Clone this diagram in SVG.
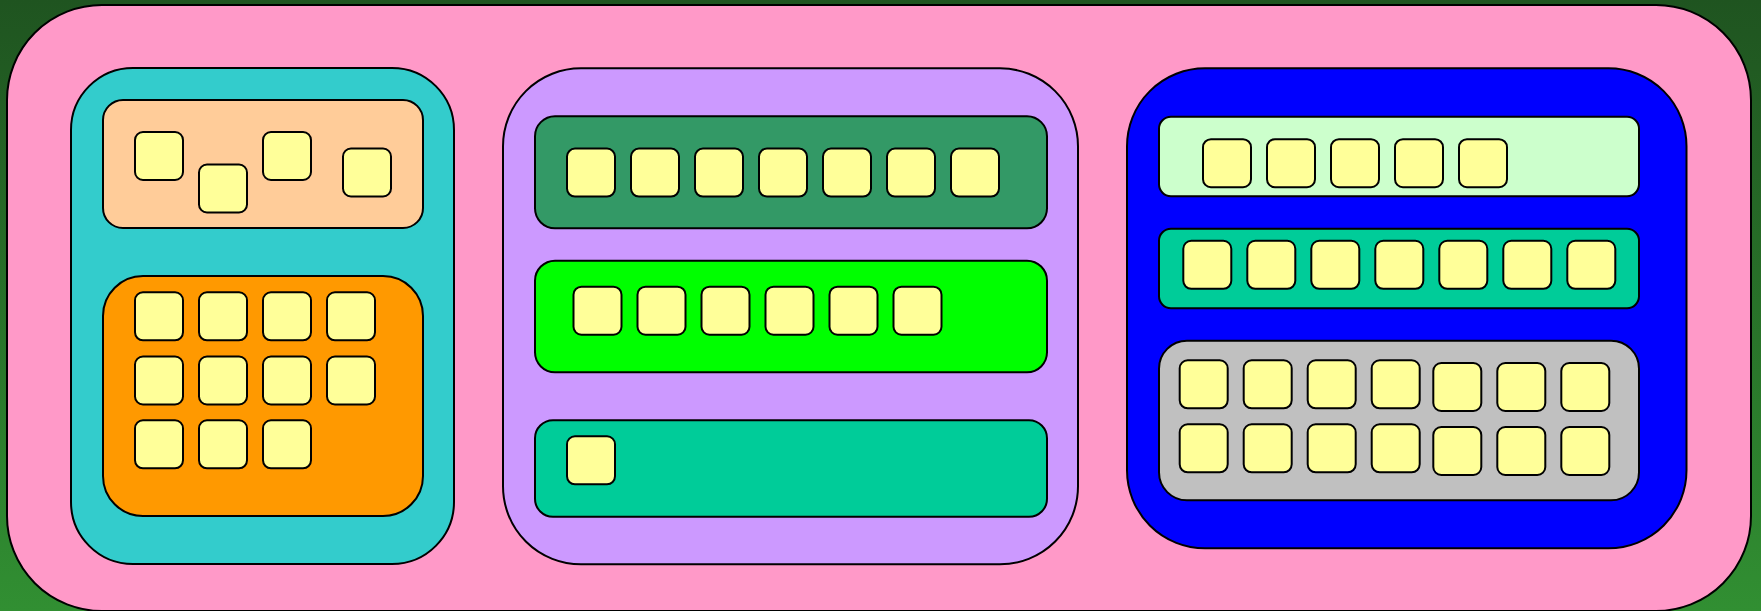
<svg xmlns="http://www.w3.org/2000/svg" width="1761" height="611" viewBox="0 0 1761 611">
  <defs>
    <linearGradient id="bg" x1="0" y1="0" x2="0" y2="1">
      <stop offset="0" stop-color="#1f5420"/>
      <stop offset="1" stop-color="#318f32"/>
    </linearGradient>
  </defs>
  <style>
    .box { stroke: #000; stroke-width: 2; }
    .item { fill: #ffff99; stroke: #000; stroke-width: 2; }
  </style>
  <rect x="0" y="0" width="1761" height="611" fill="url(#bg)"/>
  <g id="outer">
    <rect class="box" x="7" y="5" width="1744" height="606" rx="95" ry="95" fill="#ff99c8"/>
  </g>

  <g id="panel-left">
    <rect class="box" x="71" y="68" width="383" height="496" rx="62" ry="62" fill="#33cccc"/>
    <g id="group-peach">
      <rect class="box" x="103" y="100" width="320" height="128" rx="20" ry="20" fill="#ffcc99"/>
      <rect class="item" x="135" y="132" width="48" height="48" rx="8"/>
      <rect class="item" x="199" y="164.5" width="48" height="48" rx="8"/>
      <rect class="item" x="263" y="132" width="48" height="48" rx="8"/>
      <rect class="item" x="343" y="148.5" width="48" height="48" rx="8"/>
    </g>
    <g id="group-orange">
      <rect class="box" x="103" y="276" width="320" height="240" rx="40" ry="40" fill="#ff9900"/>
      <rect class="item" x="135" y="292.3" width="48" height="48" rx="8"/>
      <rect class="item" x="199" y="292.3" width="48" height="48" rx="8"/>
      <rect class="item" x="263" y="292.3" width="48" height="48" rx="8"/>
      <rect class="item" x="327" y="292.3" width="48" height="48" rx="8"/>
      <rect class="item" x="135" y="356.5" width="48" height="48" rx="8"/>
      <rect class="item" x="199" y="356.5" width="48" height="48" rx="8"/>
      <rect class="item" x="263" y="356.5" width="48" height="48" rx="8"/>
      <rect class="item" x="327" y="356.5" width="48" height="48" rx="8"/>
      <rect class="item" x="135" y="420.3" width="48" height="48" rx="8"/>
      <rect class="item" x="199" y="420.3" width="48" height="48" rx="8"/>
      <rect class="item" x="263" y="420.3" width="48" height="48" rx="8"/>
    </g>
  </g>

  <g id="panel-middle">
    <rect class="box" x="503" y="68.3" width="575" height="496" rx="78" ry="78" fill="#cc99ff"/>
    <g id="group-darkgreen">
      <rect class="box" x="535" y="116.3" width="512" height="112" rx="20" ry="20" fill="#339966"/>
      <rect class="item" x="567" y="148.6" width="48" height="48" rx="8"/>
      <rect class="item" x="631" y="148.6" width="48" height="48" rx="8"/>
      <rect class="item" x="695" y="148.6" width="48" height="48" rx="8"/>
      <rect class="item" x="759" y="148.6" width="48" height="48" rx="8"/>
      <rect class="item" x="823" y="148.6" width="48" height="48" rx="8"/>
      <rect class="item" x="887" y="148.6" width="48" height="48" rx="8"/>
      <rect class="item" x="951" y="148.6" width="48" height="48" rx="8"/>
    </g>
    <g id="group-green">
      <rect class="box" x="535" y="260.7" width="512" height="111.6" rx="20" ry="20" fill="#00ff00"/>
      <rect class="item" x="573.5" y="286.7" width="48" height="48" rx="8"/>
      <rect class="item" x="637.5" y="286.7" width="48" height="48" rx="8"/>
      <rect class="item" x="701.5" y="286.7" width="48" height="48" rx="8"/>
      <rect class="item" x="765.5" y="286.7" width="48" height="48" rx="8"/>
      <rect class="item" x="829.5" y="286.7" width="48" height="48" rx="8"/>
      <rect class="item" x="893.5" y="286.7" width="48" height="48" rx="8"/>
    </g>
    <g id="group-teal">
      <rect class="box" x="535" y="420.3" width="512" height="96.4" rx="18" ry="18" fill="#00cc99"/>
      <rect class="item" x="567" y="436.3" width="48" height="48" rx="8"/>
    </g>
  </g>

  <g id="panel-right">
    <rect class="box" x="1127" y="68.3" width="559.5" height="480" rx="78" ry="78" fill="#0000ff"/>
    <g id="group-lightgreen">
      <rect class="box" x="1159" y="116.7" width="480" height="79.6" rx="12" ry="12" fill="#ccffcc"/>
      <rect class="item" x="1203" y="139.2" width="48" height="48" rx="8"/>
      <rect class="item" x="1267" y="139.2" width="48" height="48" rx="8"/>
      <rect class="item" x="1331" y="139.2" width="48" height="48" rx="8"/>
      <rect class="item" x="1395" y="139.2" width="48" height="48" rx="8"/>
      <rect class="item" x="1459" y="139.2" width="48" height="48" rx="8"/>
    </g>
    <g id="group-teal2">
      <rect class="box" x="1159" y="228.7" width="480" height="79.6" rx="12" ry="12" fill="#00cc99"/>
      <rect class="item" x="1183.3" y="240.8" width="48" height="48" rx="8"/>
      <rect class="item" x="1247.3" y="240.8" width="48" height="48" rx="8"/>
      <rect class="item" x="1311.3" y="240.8" width="48" height="48" rx="8"/>
      <rect class="item" x="1375.3" y="240.8" width="48" height="48" rx="8"/>
      <rect class="item" x="1439.3" y="240.8" width="48" height="48" rx="8"/>
      <rect class="item" x="1503.3" y="240.8" width="48" height="48" rx="8"/>
      <rect class="item" x="1567.3" y="240.8" width="48" height="48" rx="8"/>
    </g>
    <g id="group-grey">
      <rect class="box" x="1159" y="340.7" width="480" height="159.6" rx="28" ry="28" fill="#c0c0c0"/>
      <rect class="item" x="1179.7" y="360.3" width="48" height="48" rx="8"/>
      <rect class="item" x="1243.7" y="360.3" width="48" height="48" rx="8"/>
      <rect class="item" x="1307.7" y="360.3" width="48" height="48" rx="8"/>
      <rect class="item" x="1371.7" y="360.3" width="48" height="48" rx="8"/>
      <rect class="item" x="1433.3" y="363" width="48" height="48" rx="8"/>
      <rect class="item" x="1497.3" y="363" width="48" height="48" rx="8"/>
      <rect class="item" x="1561.3" y="363" width="48" height="48" rx="8"/>
      <rect class="item" x="1179.7" y="424.3" width="48" height="48" rx="8"/>
      <rect class="item" x="1243.7" y="424.3" width="48" height="48" rx="8"/>
      <rect class="item" x="1307.7" y="424.3" width="48" height="48" rx="8"/>
      <rect class="item" x="1371.7" y="424.3" width="48" height="48" rx="8"/>
      <rect class="item" x="1433.3" y="427" width="48" height="48" rx="8"/>
      <rect class="item" x="1497.3" y="427" width="48" height="48" rx="8"/>
      <rect class="item" x="1561.3" y="427" width="48" height="48" rx="8"/>
    </g>
  </g>

  <g id="connectors"></g>
</svg>
